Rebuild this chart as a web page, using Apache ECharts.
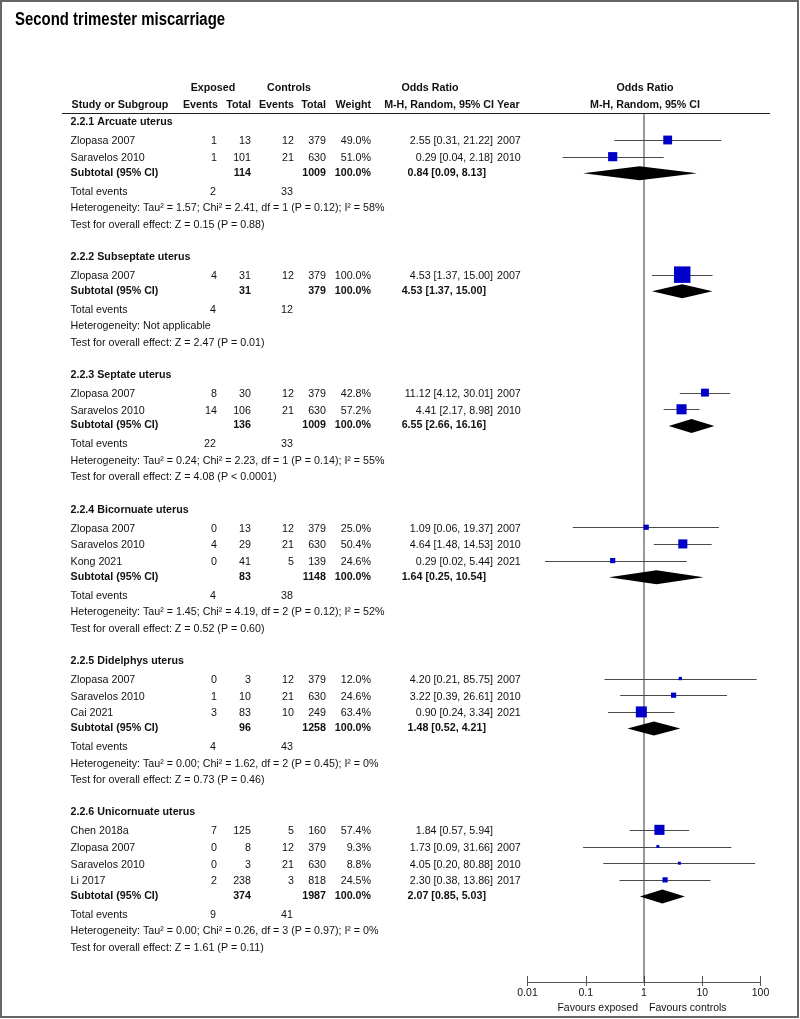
<!DOCTYPE html>
<html>
<head>
<meta charset="utf-8">
<script src="https://cdn.jsdelivr.net/npm/echarts@6/dist/echarts.min.js"></script>
<style>
html,body{margin:0;padding:0;background:#fff;}
#main{width:800px;height:1019px;}
</style>
</head>
<body>
<div id="main"></div>
<script>
// ---------------- DATA ----------------
const titleText = 'Second trimester miscarriage';
const groupNames = ['2.2.1 Arcuate uterus','2.2.2 Subseptate uterus','2.2.3 Septate uterus','2.2.4 Bicornuate uterus','2.2.5 Didelphys uterus','2.2.6 Unicornuate uterus'];

const studyGroup  = [0,0, 1, 2,2, 3,3,3, 4,4,4, 5,5,5,5];
const studyName   = ['Zlopasa 2007','Saravelos 2010','Zlopasa 2007','Zlopasa 2007','Saravelos 2010','Zlopasa 2007','Saravelos 2010','Kong 2021','Zlopasa 2007','Saravelos 2010','Cai 2021','Chen 2018a','Zlopasa 2007','Saravelos 2010','Li 2017'];
const expEvents   = [1,1, 4, 8,14, 0,4,0, 0,1,3, 7,0,0,2];
const expTotal    = [13,101, 31, 30,106, 13,29,41, 3,10,83, 125,8,3,238];
const ctlEvents   = [12,21, 12, 12,21, 12,21,5, 12,21,10, 5,12,21,3];
const ctlTotal    = [379,630, 379, 379,630, 379,630,139, 379,630,249, 160,379,630,818];
const weightPct   = [49.0,51.0, 100.0, 42.8,57.2, 25.0,50.4,24.6, 12.0,24.6,63.4, 57.4,9.3,8.8,24.5];
const studyOR     = [2.55,0.29, 4.53, 11.12,4.41, 1.09,4.64,0.29, 4.20,3.22,0.90, 1.84,1.73,4.05,2.30];
const studyLo     = [0.31,0.04, 1.37, 4.12,2.17, 0.06,1.48,0.02, 0.21,0.39,0.24, 0.57,0.09,0.20,0.38];
const studyHi     = [21.22,2.18, 15.00, 30.01,8.98, 19.37,14.53,5.44, 85.75,26.61,3.34, 5.94,31.66,80.88,13.86];
const studyYear   = ['2007','2010','2007','2007','2010','2007','2010','2021','2007','2010','2021','','2007','2010','2017'];

const subExpTotal = [114,31,136,83,96,374];
const subCtlTotal = [1009,379,1009,1148,1258,1987];
const subWeight   = [100.0,100.0,100.0,100.0,100.0,100.0];
const subOR       = [0.84,4.53,6.55,1.64,1.48,2.07];
const subLo       = [0.09,1.37,2.66,0.25,0.52,0.85];
const subHi       = [8.13,15.00,16.16,10.54,4.21,5.03];
const totExpEvents= [2,4,22,4,4,9];
const totCtlEvents= [33,12,33,38,43,41];
const heteroText  = [
  'Heterogeneity: Tau\u00b2 = 1.57; Chi\u00b2 = 2.41, df = 1 (P = 0.12); I\u00b2 = 58%',
  'Heterogeneity: Not applicable',
  'Heterogeneity: Tau\u00b2 = 0.24; Chi\u00b2 = 2.23, df = 1 (P = 0.14); I\u00b2 = 55%',
  'Heterogeneity: Tau\u00b2 = 1.45; Chi\u00b2 = 4.19, df = 2 (P = 0.12); I\u00b2 = 52%',
  'Heterogeneity: Tau\u00b2 = 0.00; Chi\u00b2 = 1.62, df = 2 (P = 0.45); I\u00b2 = 0%',
  'Heterogeneity: Tau\u00b2 = 0.00; Chi\u00b2 = 0.26, df = 3 (P = 0.97); I\u00b2 = 0%'
];
const effectText  = [
  'Test for overall effect: Z = 0.15 (P = 0.88)',
  'Test for overall effect: Z = 2.47 (P = 0.01)',
  'Test for overall effect: Z = 4.08 (P < 0.0001)',
  'Test for overall effect: Z = 0.52 (P = 0.60)',
  'Test for overall effect: Z = 0.73 (P = 0.46)',
  'Test for overall effect: Z = 1.61 (P = 0.11)'
];
const tickLabels  = ['0.01','0.1','1','10','100'];
const favoursLeft = 'Favours exposed';
const favoursRight= 'Favours controls';

// ---------------- LAYOUT ----------------
const FONT = '"Liberation Sans", Arial, Helvetica, sans-serif';
const FS = 10.7;
const AXIS_Y = 982;        // pixel row of x axis
const HEAD_LINE_Y = 113.5;
const GAP = {first:121, headToStudy:19, study:16.67, sub:16.67, total:17, het:16.5, test:16.3, nextHead:32.5};
const COL = {name:70.5, expEv:217, expTot:251, ctlEv:294, ctlTot:326, weight:371, or:493, orBold:486, year:497};

// build rows (y in layout units = px on the y axis)
const rows = [];
let y = GAP.first;
for (let g = 0; g < groupNames.length; g++) {
  if (g > 0) y += GAP.nextHead;
  rows.push({kind:'head', g, y});
  y += GAP.headToStudy;
  let firstStudy = true;
  for (let i = 0; i < studyGroup.length; i++) {
    if (studyGroup[i] !== g) continue;
    if (!firstStudy) y += GAP.study;
    firstStudy = false;
    rows.push({kind:'study', g, i, y});
  }
  y += GAP.sub;   rows.push({kind:'sub', g, y});
  y += GAP.total; rows.push({kind:'total', g, y});
  y += GAP.het;   rows.push({kind:'het', g, y});
  y += GAP.test;  rows.push({kind:'test', g, y});
}

const fmt2 = v => v.toFixed(2);
const ciText = (o,l,h) => fmt2(o) + ' [' + fmt2(l) + ', ' + fmt2(h) + ']';

function txt(x, yy, text, align, bold, size) {
  return {
    type:'text', x:x, y:yy, silent:true,
    style:{text:String(text), fill:'#111', font:(bold?'bold ':'') + (size||FS) + 'px ' + FONT,
      align:align||'left', verticalAlign:'middle', textAlign:align||'left', textVerticalAlign:'middle'}
  };
}

// table text rows as custom series data: [rowIndex, y]
const tableData = rows.map((r, k) => [k, r.y]);
function renderTable(params, api) {
  const r = rows[api.value(0)];
  const base = api.coord([1, api.value(1)])[1];
  const py = base + (r.kind === 'sub' ? -0.5 : 1.5);
  const ch = [];
  if (r.kind === 'head') {
    ch.push(txt(COL.name, py, groupNames[r.g], 'left', true));
  } else if (r.kind === 'study') {
    const i = r.i;
    ch.push(txt(COL.name, py, studyName[i], 'left'));
    ch.push(txt(COL.expEv, py, expEvents[i], 'right'));
    ch.push(txt(COL.expTot, py, expTotal[i], 'right'));
    ch.push(txt(COL.ctlEv, py, ctlEvents[i], 'right'));
    ch.push(txt(COL.ctlTot, py, ctlTotal[i], 'right'));
    ch.push(txt(COL.weight, py, weightPct[i].toFixed(1) + '%', 'right'));
    ch.push(txt(COL.or, py, ciText(studyOR[i], studyLo[i], studyHi[i]), 'right'));
    if (studyYear[i]) ch.push(txt(COL.year, py, studyYear[i], 'left'));
  } else if (r.kind === 'sub') {
    const g = r.g;
    ch.push(txt(COL.name, py, 'Subtotal (95% CI)', 'left', true));
    ch.push(txt(COL.expTot, py, subExpTotal[g], 'right', true));
    ch.push(txt(COL.ctlTot, py, subCtlTotal[g], 'right', true));
    ch.push(txt(COL.weight, py, subWeight[g].toFixed(1) + '%', 'right', true));
    ch.push(txt(COL.orBold, py, ciText(subOR[g], subLo[g], subHi[g]), 'right', true));
  } else if (r.kind === 'total') {
    ch.push(txt(COL.name, py, 'Total events', 'left'));
    ch.push(txt(COL.expEv - 1, py, totExpEvents[r.g], 'right'));
    ch.push(txt(COL.ctlEv - 1, py, totCtlEvents[r.g], 'right'));
  } else if (r.kind === 'het') {
    ch.push(txt(COL.name, py, heteroText[r.g], 'left'));
  } else if (r.kind === 'test') {
    ch.push(txt(COL.name, py, effectText[r.g], 'left'));
  }
  return {type:'group', children:ch};
}

// forest marks: [kind(0 study / 1 subtotal), y, est, lo, hi, weight]
const forestData = [];
rows.forEach(r => {
  if (r.kind === 'study') forestData.push([0, r.y, studyOR[r.i], studyLo[r.i], studyHi[r.i], weightPct[r.i]]);
  if (r.kind === 'sub') forestData.push([1, r.y, subOR[r.g], subLo[r.g], subHi[r.g], subWeight[r.g]]);
});
function renderForest(params, api) {
  const kind = api.value(0), yy = api.value(1);
  const pE = api.coord([api.value(2), yy]);
  const pL = api.coord([api.value(3), yy]);
  const pH = api.coord([api.value(4), yy]);
  if (kind === 0) {
    const s = Math.max(3, 1.5 + 0.15 * api.value(5));
    const ly = Math.round(pE[1]) + 0.5;
    return {type:'group', children:[
      {type:'line', shape:{x1:pL[0], y1:ly, x2:pH[0], y2:ly}, style:{stroke:'#4a4a4a', lineWidth:1}},
      {type:'rect', shape:{x:pE[0]-s/2, y:pE[1]-s/2, width:s, height:s}, style:{fill:'#0000c8'}}
    ]};
  }
  const h = 7;
  return {type:'polygon', shape:{points:[[pL[0],pE[1]],[pE[0],pE[1]-h],[pH[0],pE[1]],[pE[0],pE[1]+h]]}, style:{fill:'#000'}};
}

// ---------------- CHART ----------------
const chart = echarts.init(document.getElementById('main'), null, {renderer:'canvas'});
const axisCommon = {type:'log', logBase:10, min:0.01, max:100, gridIndex:0, splitLine:{show:false}};
chart.setOption({
  animation:false,
  backgroundColor:'#fff',
  grid:{left:527.5, width:233, top:0, height:AXIS_Y, containLabel:false},
  xAxis:[
    Object.assign({}, axisCommon, {
      position:'bottom',
      axisLine:{show:true, onZero:false, lineStyle:{color:'#555', width:1}},
      axisTick:{show:true, inside:true, length:6, lineStyle:{color:'#555'}},
      axisLabel:{show:true, margin:6, color:'#111', fontSize:10.5, fontFamily:FONT,
        formatter: v => tickLabels[Math.round(Math.log10(v)) + 2]}
    }),
    Object.assign({}, axisCommon, {
      position:'bottom',
      axisLine:{show:false, onZero:false},
      axisTick:{show:true, inside:false, length:4, lineStyle:{color:'#555'}},
      axisLabel:{show:false}
    })
  ],
  yAxis:{type:'value', inverse:true, min:0, max:AXIS_Y, show:false},
  graphic:[
    {type:'rect', shape:{x:1, y:1, width:797, height:1016}, style:{fill:null, stroke:'#666', lineWidth:2}, silent:true},
    {type:'text', x:15, y:20, scaleX:0.83, style:{x:0, y:0, text:titleText, font:'bold 18px ' + FONT, fill:'#000', verticalAlign:'middle', textVerticalAlign:'middle'}},
    txt(213, 88, 'Exposed', 'center', true),
    txt(289, 88, 'Controls', 'center', true),
    txt(430, 88, 'Odds Ratio', 'center', true),
    txt(645, 88, 'Odds Ratio', 'center', true),
    txt(71.5, 105, 'Study or Subgroup', 'left', true),
    txt(218, 105, 'Events', 'right', true),
    txt(251, 105, 'Total', 'right', true),
    txt(294, 105, 'Events', 'right', true),
    txt(326, 105, 'Total', 'right', true),
    txt(371, 105, 'Weight', 'right', true),
    txt(494, 105, 'M-H, Random, 95% CI', 'right', true),
    txt(497, 105, 'Year', 'left', true),
    txt(645, 105, 'M-H, Random, 95% CI', 'center', true),
    {type:'line', shape:{x1:62, y1:HEAD_LINE_Y, x2:770, y2:HEAD_LINE_Y}, style:{stroke:'#222', lineWidth:1}, silent:true},
    txt(638, 1008, favoursLeft, 'right', false, 10.5),
    txt(649, 1008, favoursRight, 'left', false, 10.5)
  ],
  series:[
    {type:'line', xAxisIndex:0, yAxisIndex:0, data:[[1, HEAD_LINE_Y],[1, AXIS_Y]], symbol:'none', silent:true,
      lineStyle:{color:'#333', width:1}, z:1},
    {type:'custom', xAxisIndex:0, yAxisIndex:0, data:forestData, renderItem:renderForest, clip:false, silent:true,
      encode:{x:[2,3,4], y:1}, z:3},
    {type:'custom', xAxisIndex:0, yAxisIndex:0, data:tableData, renderItem:renderTable, clip:false, silent:true,
      encode:{y:1}, z:4}
  ]
});
</script>
</body>
</html>
